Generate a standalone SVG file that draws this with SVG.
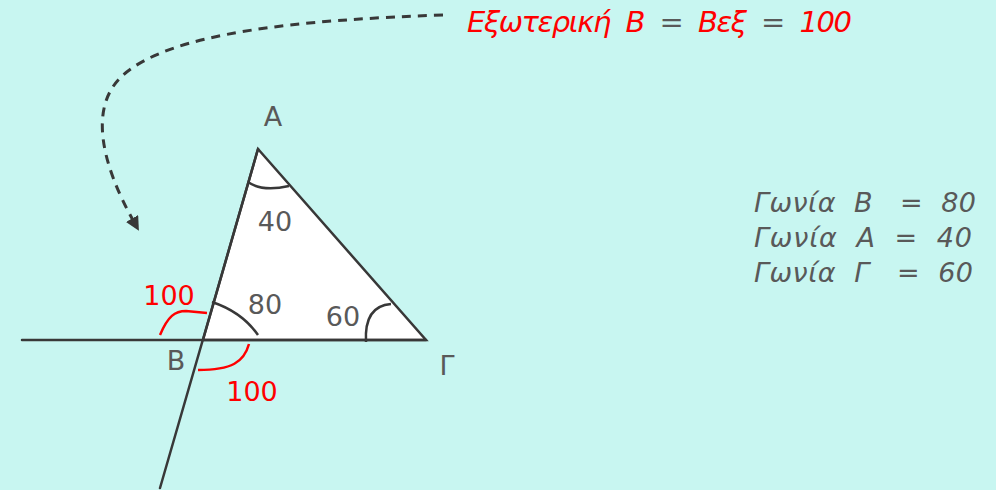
<svg xmlns="http://www.w3.org/2000/svg" width="996" height="490" viewBox="0 0 996 490">
<style>
.ln{stroke:#383838;stroke-width:2.5;fill:none;stroke-linecap:round}
.arc{stroke:#383838;stroke-width:2.5;fill:none}
.red{stroke:#ff0000;stroke-width:2.5;fill:none}
.t{font-family:"DejaVu Sans","Noto Sans",sans-serif;font-size:27px;fill:#595959}
.tr{font-family:"DejaVu Sans","Noto Sans",sans-serif;font-size:27px;fill:#ff0000}
.it{font-family:"DejaVu Sans","Noto Sans",sans-serif;font-style:italic;font-size:27px;fill:#595959}
.itr{font-family:"DejaVu Sans","Noto Sans",sans-serif;font-style:italic;font-size:29px;fill:#ff0000}
</style>
<defs>
<marker id="ah" markerWidth="14" markerHeight="14" refX="4" refY="7" orient="auto" markerUnits="userSpaceOnUse" viewBox="0 0 14 14">
<path d="M0,0 L14,7 L0,14 z" fill="#383838"/>
</marker>
</defs>
<rect width="996" height="490" fill="#c8f6f1"/>
<g id="triangle">
<polygon points="258,149 203,340 426,340" fill="#ffffff" stroke="#383838" stroke-width="2.5" stroke-linejoin="miter"/>
</g>
<g id="lines">
<line class="ln" x1="22" y1="340" x2="426" y2="340"/>
<line class="ln" x1="258" y1="149" x2="160" y2="488"/>
</g>
<g id="arcs">
<path class="arc" d="M248,182 Q262,192 289,186"/>
<path class="arc" d="M212,302 Q242,312 258,335"/>
<path class="arc" d="M366,342 Q364,306 391,304"/>
<path class="red" d="M160,335 C168,316 175,311 186,311 L207,313"/>
<path class="red" d="M249,344 C244,362 232,370 198,370"/>
</g>
<g id="connectors">
<path d="M443,15 C300,20 170,32 122,76 C88,108 102,165 134,222" stroke="#383838" stroke-width="3" fill="none" stroke-dasharray="9,7" marker-end="url(#ah)"/>
</g>
<g id="labels">
<text class="t" x="273" y="126" text-anchor="middle">Α</text>
<text class="t" x="176" y="370" text-anchor="middle">Β</text>
<text class="t" x="447" y="375" text-anchor="middle">Γ</text>
<text class="t" x="275" y="231" text-anchor="middle">40</text>
<text class="t" x="265" y="314" text-anchor="middle" font-size="24">80</text>
<text class="t" x="343" y="326" text-anchor="middle">60</text>
<text class="tr" x="169" y="305" text-anchor="middle">100</text>
<text class="tr" x="252" y="401" text-anchor="middle">100</text>
</g>
<g id="title">
<text class="itr" x="467" y="32" textLength="385" lengthAdjust="spacing" xml:space="preserve">Εξωτερική  Β  <tspan fill="#595959">=</tspan>  Βεξ  <tspan fill="#595959">=</tspan>  100</text>
</g>
<g id="summary">
<text class="it" x="754" y="212" textLength="222" lengthAdjust="spacing" xml:space="preserve">Γωνία  Β   =  80</text>
<text class="it" x="754" y="247" textLength="218" lengthAdjust="spacing" xml:space="preserve">Γωνία  Α  =  40</text>
<text class="it" x="754" y="282" textLength="219" lengthAdjust="spacing" xml:space="preserve">Γωνία  Γ   =  60</text>
</g>
</svg>
